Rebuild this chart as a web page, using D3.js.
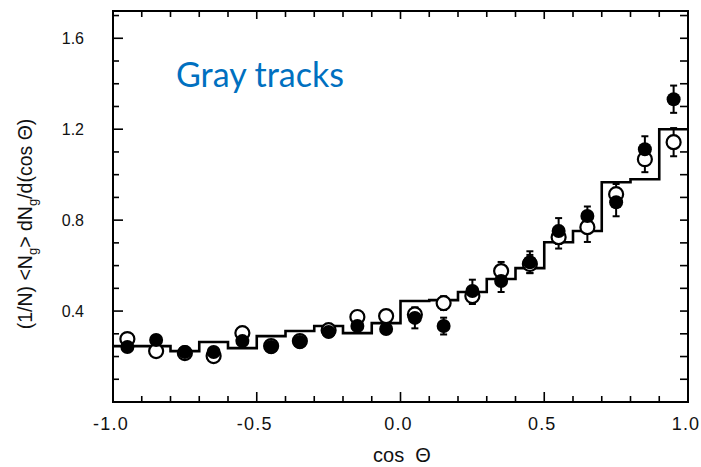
<!DOCTYPE html>
<html>
<head>
<meta charset="utf-8">
<script src="https://cdn.jsdelivr.net/npm/d3@7"></script>
<style>
  html, body { margin: 0; padding: 0; background: #fff; }
  svg { display: block; }
</style>
</head>
<body>
<svg id="chart" width="701" height="467"></svg>
<script>
// Angular distribution of gray tracks: histogram (model) and two measured samples
const binEdges = [-1.0, -0.9, -0.8, -0.7, -0.6, -0.5, -0.4, -0.3, -0.2, -0.1, 0.0,
                  0.1, 0.2, 0.3, 0.4, 0.5, 0.6, 0.7, 0.8, 0.9, 1.0];
const histValues = [0.246, 0.246, 0.224, 0.264, 0.237, 0.290, 0.312, 0.334, 0.303, 0.347,
                    0.444, 0.448, 0.484, 0.541, 0.589, 0.703, 0.752, 0.967, 0.980, 1.200];

const cosCenters = [-0.95, -0.85, -0.75, -0.65, -0.55, -0.45, -0.35, -0.25, -0.15, -0.05,
                    0.05, 0.15, 0.25, 0.35, 0.45, 0.55, 0.65, 0.75, 0.85, 0.95];

const openValues = [0.277, 0.224, 0.215, 0.202, 0.303, 0.246, 0.268, 0.316, 0.374, 0.378,
                    0.385, 0.435, 0.466, 0.576, 0.607, 0.725, 0.769, 0.914, 1.068, 1.143];
const openErrors = [0.02, 0.02, 0.02, 0.02, 0.02, 0.02, 0.02, 0.02, 0.02, 0.02,
                    0.03, 0.03, 0.035, 0.04, 0.04, 0.05, 0.065, 0.045, 0.057, 0.062];

const filledValues = [0.242, 0.273, 0.220, 0.220, 0.268, 0.242, 0.264, 0.308, 0.334, 0.321,
                      0.370, 0.334, 0.488, 0.532, 0.615, 0.752, 0.818, 0.879, 1.112, 1.332];
const filledErrors = [0.02, 0.02, 0.02, 0.02, 0.02, 0.02, 0.02, 0.02, 0.02, 0.02,
                      0.046, 0.037, 0.05, 0.048, 0.048, 0.057, 0.042, 0.062, 0.057, 0.06];

const xTickLabels = [-1.0, -0.5, 0.0, 0.5, 1.0];
const yTickLabels = [0.4, 0.8, 1.2, 1.6];

const svg = d3.select("#chart");
const frameLeft = 113, frameRight = 688, frameTop = 11, frameBottom = 402;

const x = d3.scaleLinear().domain([-1, 1]).range([frameLeft, frameRight]);
const y = d3.scaleLinear().domain([0, 1.72]).range([frameBottom, frameTop]);

const minorX = d3.range(-9, 10).map(i => i / 10);
const minorY = d3.range(1, 18).map(i => i / 10);
const isMajorX = v => Math.abs(v * 2 - Math.round(v * 2)) < 1e-6;
const isMajorY = v => yTickLabels.some(t => Math.abs(t - v) < 1e-6);

// Frame
svg.append("rect")
  .attr("x", frameLeft).attr("y", frameTop)
  .attr("width", frameRight - frameLeft).attr("height", frameBottom - frameTop)
  .attr("fill", "none").attr("stroke", "#000").attr("stroke-width", 2);

// Inward ticks on all four sides
const ticks = svg.append("g").attr("stroke", "#000").attr("stroke-width", 1.6);
ticks.selectAll(".tb").data(minorX).join("line")
  .attr("x1", d => x(d)).attr("x2", d => x(d))
  .attr("y1", frameBottom).attr("y2", d => frameBottom - (isMajorX(d) ? 10 : 6));
ticks.selectAll(".tt").data(minorX).join("line")
  .attr("x1", d => x(d)).attr("x2", d => x(d))
  .attr("y1", frameTop).attr("y2", d => frameTop + (isMajorX(d) ? 8 : 6));
ticks.selectAll(".tl").data(minorY).join("line")
  .attr("x1", frameLeft).attr("x2", d => frameLeft + (isMajorY(d) ? 10 : 6))
  .attr("y1", d => y(d)).attr("y2", d => y(d));
ticks.selectAll(".tr").data(minorY).join("line")
  .attr("x1", frameRight).attr("x2", frameRight - 8)
  .attr("y1", d => y(d)).attr("y2", d => y(d));

// Tick labels
svg.append("g").selectAll("text").data(xTickLabels).join("text")
  .attr("x", d => x(d) - 2).attr("y", 430)
  .attr("text-anchor", "middle")
  .attr("font-family", "'Liberation Sans', Arial, sans-serif")
  .attr("font-size", 18).attr("letter-spacing", 1.2)
  .attr("fill", "#111")
  .text(d => d.toFixed(1));

svg.append("g").selectAll("text").data(yTickLabels).join("text")
  .attr("x", 84).attr("y", d => y(d) + 6)
  .attr("text-anchor", "end")
  .attr("font-family", "'Liberation Sans', Arial, sans-serif")
  .attr("font-size", 16)
  .attr("fill", "#111")
  .text(d => d.toFixed(1));

// Axis titles
svg.append("text")
  .attr("x", 402).attr("y", 462)
  .attr("text-anchor", "middle")
  .attr("font-family", "'Liberation Sans', Arial, sans-serif")
  .attr("font-size", 20)
  .attr("fill", "#111")
  .attr("xml:space", "preserve")
  .text("cos  \u0398");

const yTitle = svg.append("text")
  .attr("transform", "translate(32,224) rotate(-90)")
  .attr("text-anchor", "middle")
  .attr("font-family", "'Liberation Sans', Arial, sans-serif")
  .attr("font-size", 19.5)
  .attr("fill", "#111");
yTitle.append("tspan").text("(1/N) <N");
yTitle.append("tspan").attr("dy", 5).attr("font-size", 13).text("g");
yTitle.append("tspan").attr("dy", -5).text("> dN");
yTitle.append("tspan").attr("dy", 5).attr("font-size", 13).text("g");
yTitle.append("tspan").attr("dy", -5).text("/d(cos \u0398)");

// Model histogram as a step line
const stepPoints = histValues.map((v, i) => [binEdges[i], v]);
stepPoints.push([binEdges[binEdges.length - 1], histValues[histValues.length - 1]]);
svg.append("path")
  .datum(stepPoints)
  .attr("fill", "none").attr("stroke", "#000").attr("stroke-width", 2.6)
  .attr("d", d3.line().x(d => x(d[0])).y(d => y(d[1])).curve(d3.curveStepAfter));

// Error bars, then markers
function errorBars(values, errors) {
  const g = svg.append("g").attr("stroke", "#000").attr("stroke-width", 2);
  const data = values.map((v, i) => ({ c: cosCenters[i], v, e: errors[i] }));
  g.selectAll(".v").data(data).join("line")
    .attr("x1", d => x(d.c)).attr("x2", d => x(d.c))
    .attr("y1", d => y(d.v - d.e)).attr("y2", d => y(d.v + d.e));
  g.selectAll(".lo").data(data).join("line")
    .attr("x1", d => x(d.c) - 3.5).attr("x2", d => x(d.c) + 3.5)
    .attr("y1", d => y(d.v - d.e)).attr("y2", d => y(d.v - d.e));
  g.selectAll(".hi").data(data).join("line")
    .attr("x1", d => x(d.c) - 3.5).attr("x2", d => x(d.c) + 3.5)
    .attr("y1", d => y(d.v + d.e)).attr("y2", d => y(d.v + d.e));
}
errorBars(openValues, openErrors);
errorBars(filledValues, filledErrors);

svg.append("g").selectAll("circle").data(openValues).join("circle")
  .attr("cx", (d, i) => x(cosCenters[i])).attr("cy", d => y(d))
  .attr("r", 7)
  .attr("fill", "#fff").attr("stroke", "#000").attr("stroke-width", 2.2);

svg.append("g").selectAll("circle").data(filledValues).join("circle")
  .attr("cx", (d, i) => x(cosCenters[i])).attr("cy", d => y(d))
  .attr("r", 7)
  .attr("fill", "#000");

// Panel label
svg.append("text")
  .attr("x", 176).attr("y", 87)
  .attr("font-family", "Lato, 'Open Sans', sans-serif")
  .attr("font-size", 34)
  .attr("fill", "#0070C0")
  .text("Gray tracks");
</script>
</body>
</html>
